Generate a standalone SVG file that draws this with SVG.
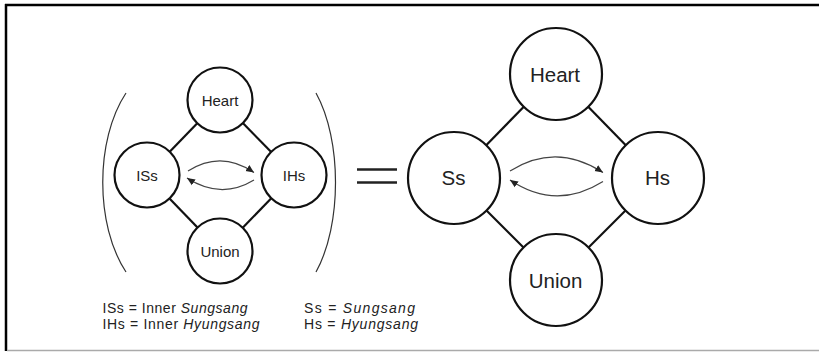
<svg xmlns="http://www.w3.org/2000/svg" width="819" height="352" viewBox="0 0 819 352">
<defs>
<marker id="ah" markerUnits="userSpaceOnUse" markerWidth="9" markerHeight="8" refX="8" refY="4" orient="auto">
<path d="M0,0.5 L8,4 L0,7.5 Z" fill="#222"/>
</marker>
<style>
.node circle{fill:#fff;stroke:#111;stroke-width:2.2}
.lbl{font-family:"Liberation Sans",Arial,sans-serif;fill:#222;text-anchor:middle}
.s{font-size:15px}
.b{font-size:20.5px}
.edge{stroke:#111;stroke-width:2.2;fill:none}
.arc{stroke:#444;stroke-width:1.2;fill:none;marker-end:url(#ah)}
.paren{stroke:#333;stroke-width:1.2;fill:none}
.leg{font-family:"Liberation Sans",Arial,sans-serif;font-size:14px;fill:#222}
</style>
</defs>
<rect width="819" height="352" fill="#fff"/>
<g id="frame">
<line x1="6" y1="4" x2="6" y2="351" stroke="#000" stroke-width="2.5"/>
<line x1="5" y1="5" x2="819" y2="5" stroke="#000" stroke-width="2.5"/>
<line x1="7" y1="350.5" x2="819" y2="350.5" stroke="#aaa" stroke-width="1.5"/>
</g>
<g id="connectors">
<line class="edge" x1="169.7" y1="151.7" x2="197.3" y2="123.3"/>
<line class="edge" x1="242.8" y1="123.1" x2="271.2" y2="151.9"/>
<line class="edge" x1="169.5" y1="198.4" x2="197.5" y2="227.6"/>
<line class="edge" x1="242.7" y1="227.7" x2="271.3" y2="198.3"/>
<path class="arc" d="M188,171 Q221,150 254,172.5"/>
<path class="arc" d="M254,180 Q221,200 187,178"/>
<line class="edge" x1="486.2" y1="145.2" x2="523.8" y2="106.8"/>
<line class="edge" x1="588.2" y1="106.8" x2="625.8" y2="145.2"/>
<line class="edge" x1="486.5" y1="210.5" x2="523.5" y2="247.5"/>
<line class="edge" x1="588.5" y1="247.5" x2="625.5" y2="210.5"/>
<path class="arc" d="M510,171 Q556,142 603,172.5"/>
<path class="arc" d="M603,181.5 Q556,211 510,180"/>
</g>
<g id="brackets">
<path class="paren" d="M126,93 C95,140 95,225 126,272"/>
<path class="paren" d="M316,93 C342,140 342,225 316,272"/>
<line x1="357" y1="169.5" x2="397" y2="169.5" stroke="#222" stroke-width="2.5"/>
<line x1="357" y1="182.5" x2="397" y2="182.5" stroke="#222" stroke-width="2.5"/>
</g>
<g id="n-heart-small" class="node"><circle cx="220" cy="100" r="32.5"/><text class="lbl s" x="220" y="106">Heart</text></g>
<g id="n-iss" class="node"><circle cx="147" cy="175" r="32.5"/><text class="lbl s" x="147" y="181">ISs</text></g>
<g id="n-ihs" class="node"><circle cx="294" cy="175" r="32.5"/><text class="lbl s" x="294" y="181">IHs</text></g>
<g id="n-union-small" class="node"><circle cx="220" cy="251" r="32.5"/><text class="lbl s" x="220" y="257">Union</text></g>
<g id="n-heart-big" class="node"><circle cx="556" cy="74" r="46"/><text class="lbl b" x="555" y="81.5">Heart</text></g>
<g id="n-ss" class="node"><circle cx="454" cy="178" r="46"/><text class="lbl b" x="453.5" y="185">Ss</text></g>
<g id="n-hs" class="node"><circle cx="658" cy="178" r="46"/><text class="lbl b" x="657.5" y="185">Hs</text></g>
<g id="n-union-big" class="node"><circle cx="556" cy="280" r="46"/><text class="lbl b" x="555.5" y="288">Union</text></g>
<g id="legend">
<text class="leg" x="102.5" y="312.5" textLength="145" lengthAdjust="spacing">ISs = Inner <tspan font-style="italic">Sungsang</tspan></text>
<text class="leg" x="102.5" y="328.5" textLength="157" lengthAdjust="spacing">IHs = Inner <tspan font-style="italic">Hyungsang</tspan></text>
<text class="leg" x="304" y="312.5" textLength="111" lengthAdjust="spacing">Ss = <tspan font-style="italic">Sungsang</tspan></text>
<text class="leg" x="304" y="328.5" textLength="114" lengthAdjust="spacing">Hs = <tspan font-style="italic">Hyungsang</tspan></text>
</g>
</svg>
